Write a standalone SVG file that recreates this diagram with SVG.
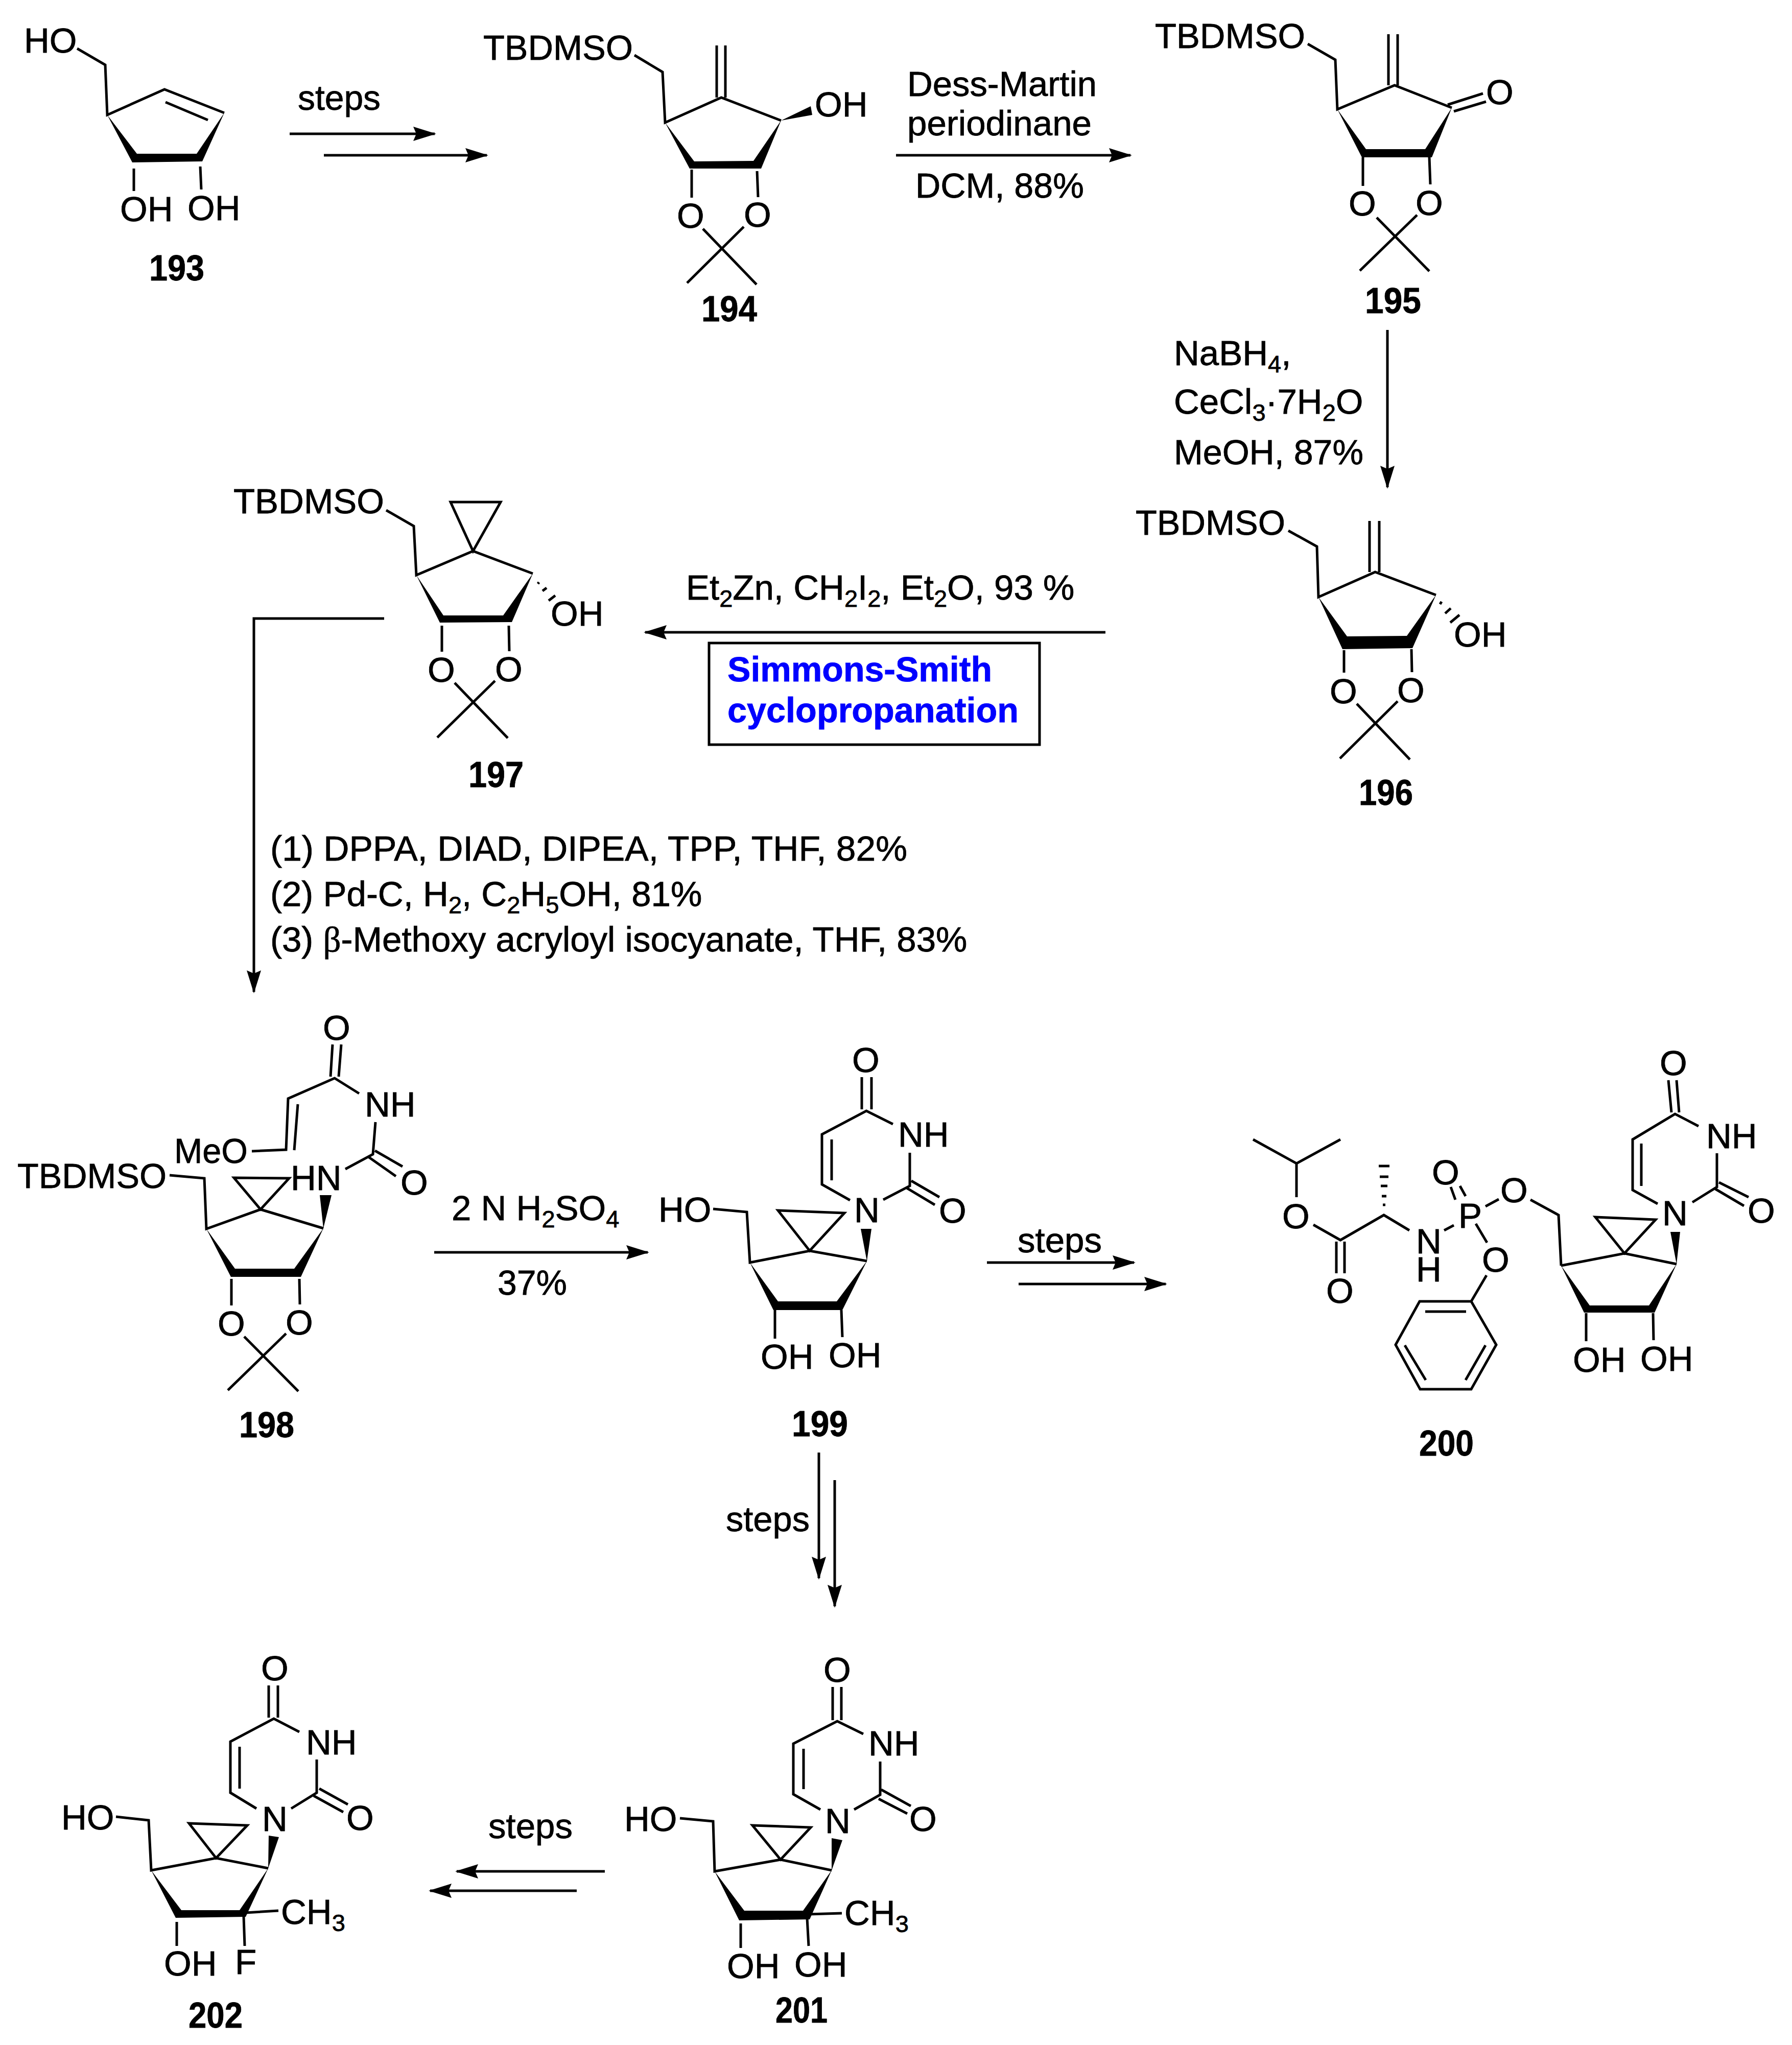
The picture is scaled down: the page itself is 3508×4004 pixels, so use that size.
<svg xmlns="http://www.w3.org/2000/svg" width="3508" height="4004" viewBox="0 0 3508 4004">
<defs>
<style>
text{font-family:"Liberation Sans",Arial,sans-serif;font-size:69px;fill:#000;stroke:#000;stroke-width:0.8;transform:translateX(-3px)}
.l{font-weight:bold;font-size:70px}
.s{font-size:47px}
.bl{font-weight:bold;font-size:68px;fill:#0000ff;stroke:#0000ff}
.b{fill:none;stroke:#000;stroke-width:5;stroke-linejoin:miter}
.f{fill:#000;stroke:none}
.a{fill:none;stroke:#000;stroke-width:5;marker-end:url(#head)}
.c{fill:none;stroke:#000;stroke-width:5}
.gr{font-family:"Liberation Serif",serif}
</style>
<marker id="head" markerUnits="userSpaceOnUse" markerWidth="46" markerHeight="30" refX="42" refY="15" orient="auto"><path d="M45,15 L0,1 L6,15 L0,29 Z" fill="#000"/></marker>
</defs>
<rect width="3508" height="4004" fill="#fff"/>

<g id="connectors">
<path class="a" d="M567,262 H851"/>
<path class="a" d="M634,304 H953"/>
<path class="a" d="M1754,304 H2213"/>
<path class="a" d="M2716,646 V954"/>
<path class="a" d="M2164,1238 H1263"/>
<path class="a" d="M752,1211 H497 V1942"/>
<path class="a" d="M850,2452 H1268"/>
<path class="a" d="M1932,2472 H2220"/>
<path class="a" d="M1994,2514 H2282"/>
<path class="a" d="M1603,2844 V3090"/>
<path class="a" d="M1634,2898 V3145"/>
<path class="a" d="M1184,3664 H894"/>
<path class="a" d="M1129,3702 H842"/>
<rect class="c" x="1388" y="1259" width="647" height="199"/>
</g>

<g id="reagents">
<text x="586" y="215" textLength="162" lengthAdjust="spacingAndGlyphs">steps</text>
<text x="1779" y="188" textLength="371" lengthAdjust="spacingAndGlyphs">Dess-Martin</text>
<text x="1779" y="265" textLength="361" lengthAdjust="spacingAndGlyphs">periodinane</text>
<text x="1795" y="387" textLength="330" lengthAdjust="spacingAndGlyphs">DCM, 88%</text>
<text x="2301" y="715">NaBH<tspan class="s" dy="14">4</tspan><tspan dy="-14">,</tspan></text>
<text x="2301" y="810">CeCl<tspan class="s" dy="14">3</tspan><tspan dy="-14">·7H</tspan><tspan class="s" dy="14">2</tspan><tspan dy="-14">O</tspan></text>
<text x="2301" y="909" textLength="371" lengthAdjust="spacingAndGlyphs">MeOH, 87%</text>
<text x="1346" y="1174">Et<tspan class="s" dy="14">2</tspan><tspan dy="-14">Zn, CH</tspan><tspan class="s" dy="14">2</tspan><tspan dy="-14">I</tspan><tspan class="s" dy="14">2</tspan><tspan dy="-14">, Et</tspan><tspan class="s" dy="14">2</tspan><tspan dy="-14">O, 93 %</tspan></text>
<text class="bl" x="1427" y="1334" textLength="518" lengthAdjust="spacingAndGlyphs">Simmons-Smith</text>
<text class="bl" x="1427" y="1414" textLength="570" lengthAdjust="spacingAndGlyphs">cyclopropanation</text>
<text x="532" y="1685" textLength="1247" lengthAdjust="spacingAndGlyphs">(1) DPPA, DIAD, DIPEA, TPP, THF, 82%</text>
<text x="532" y="1774">(2) Pd-C, H<tspan class="s" dy="14">2</tspan><tspan dy="-14">, C</tspan><tspan class="s" dy="14">2</tspan><tspan dy="-14">H</tspan><tspan class="s" dy="14">5</tspan><tspan dy="-14">OH, 81%</tspan></text>
<text x="532" y="1863">(3) <tspan class="gr">β</tspan>-Methoxy acryloyl isocyanate, THF, 83%</text>
<text x="887" y="2389">2 N H<tspan class="s" dy="14">2</tspan><tspan dy="-14">SO</tspan><tspan class="s" dy="14">4</tspan></text>
<text x="977" y="2535" textLength="136" lengthAdjust="spacingAndGlyphs">37%</text>
<text x="1995" y="2452" textLength="165" lengthAdjust="spacingAndGlyphs">steps</text>
<text x="1424" y="2998" textLength="164" lengthAdjust="spacingAndGlyphs">steps</text>
<text x="959" y="3599" textLength="165" lengthAdjust="spacingAndGlyphs">steps</text>
</g>

<g id="compound-193">
<path class="b" d="M151,95 L206,127 L210,225 L322,175 L439,221 M324,200 L407,235 M262,330 V374 M392,326 L394,371"/>
<path class="f" d="M210,225 L268,301 L385,301 L439,221 L396,316 L259,318 Z"/>
<text x="50" y="103">HO</text>
<text x="238" y="433">OH</text>
<text x="370" y="431">OH</text>
<text class="l" x="295" y="549" textLength="108" lengthAdjust="spacingAndGlyphs">193</text>
</g>

<g id="compound-194">
<path class="b" d="M1242,108 L1297,141 L1302,240 L1412,191 L1529,236 M1403,89 V191 M1420,89 V191 M1354,332 V387 M1482,335 L1484,386 M1376,448 L1481,557 M1456,444 L1345,554"/>
<path class="f" d="M1302,240 L1359,316 L1475,315 L1529,236 L1490,330 L1350,330 Z M1529,236 L1587,208 L1590,225 Z"/>
<text x="949" y="117" textLength="293" lengthAdjust="spacingAndGlyphs">TBDMSO</text>
<text x="1598" y="228">OH</text>
<text x="1328" y="446">O</text>
<text x="1459" y="444">O</text>
<text class="l" x="1376" y="629" textLength="109" lengthAdjust="spacingAndGlyphs">194</text>
</g>

<g id="compound-195">
<path class="b" d="M2560,86 L2614,117 L2618,214 L2730,167 L2842,211 M2718,67 V167 M2736,67 V167 M2834,205 L2903,183 M2846,218 L2909,199 M2668,308 V364 M2798,308 L2800,361 M2695,426 L2798,531 M2774,421 L2662,530"/>
<path class="f" d="M2618,214 L2674,292 L2790,292 L2842,211 L2803,308 L2666,308 Z"/>
<text x="2264" y="94" textLength="294" lengthAdjust="spacingAndGlyphs">TBDMSO</text>
<text x="2912" y="204">O</text>
<text x="2643" y="422">O</text>
<text x="2774" y="421">O</text>
<text class="l" x="2675" y="613" textLength="110" lengthAdjust="spacingAndGlyphs">195</text>
</g>

<g id="compound-196">
<path class="b" d="M2522,1039 L2578,1070 L2581,1169 L2692,1120 L2811,1165 M2681,1020 V1120 M2700,1020 V1120 M2631,1273 V1317 M2763,1271 L2764,1316 M2656,1378 L2760,1487 M2736,1373 L2623,1485 M2819,1183 L2822,1178 M2829,1201 L2840,1191 M2839,1219 L2857,1204"/>
<path class="f" d="M2581,1169 L2637,1246 L2754,1245 L2811,1165 L2765,1269 L2628,1271 Z"/>
<text x="2226" y="1047" textLength="293" lengthAdjust="spacingAndGlyphs">TBDMSO</text>
<text x="2849" y="1266">OH</text>
<text x="2606" y="1377">O</text>
<text x="2738" y="1375">O</text>
<text class="l" x="2663" y="1576" textLength="106" lengthAdjust="spacingAndGlyphs">196</text>
</g>

<g id="compound-197">
<path class="b" d="M756,999 L810,1030 L815,1126 L926,1079 L1043,1123 M882,983 H980 L926,1079 Z M865,1225 V1276 M996,1225 L997,1275 M890,1337 L994,1445 M969,1333 L856,1444 M1053,1143 L1055,1140 M1062,1157 L1070,1151 M1074,1176 L1087,1166"/>
<path class="f" d="M815,1126 L868,1205 L985,1205 L1043,1123 L1002,1218 L861,1219 Z"/>
<text x="460" y="1005" textLength="295" lengthAdjust="spacingAndGlyphs">TBDMSO</text>
<text x="1081" y="1225">OH</text>
<text x="840" y="1335">O</text>
<text x="972" y="1334">O</text>
<text class="l" x="920" y="1541" textLength="108" lengthAdjust="spacingAndGlyphs">197</text>
</g>

<g id="compound-198">
<path class="b" d="M651,2045 L647,2108 M668,2045 L663,2108 M703,2141 L655,2111 L564,2151 L560,2251 L493,2254 M583,2162 L576,2252 M735,2197 L730,2260 L676,2289 M734,2253 L788,2284 M721,2265 L775,2303 M332,2301 L400,2307 L404,2406 L510,2368 L633,2405 M458,2306 L566,2307 L510,2368 Z M453,2504 V2556 M586,2504 L587,2554 M478,2617 L584,2724 M560,2611 L446,2722"/>
<path class="f" d="M404,2406 L460,2484 L576,2484 L633,2405 L589,2500 L452,2500 Z M633,2405 L626,2340 L649,2340 Z"/>
<text x="37" y="2326" textLength="292" lengthAdjust="spacingAndGlyphs">TBDMSO</text>
<text x="344" y="2277" textLength="144" lengthAdjust="spacingAndGlyphs">MeO</text>
<text x="635" y="2036">O</text>
<text x="717" y="2186">NH</text>
<text x="572" y="2330">HN</text>
<text x="787" y="2339">O</text>
<text x="429" y="2615">O</text>
<text x="562" y="2613">O</text>
<text class="l" x="471" y="2814" textLength="108" lengthAdjust="spacingAndGlyphs">198</text>
</g>

<g id="compound-199">
<path class="b" d="M1687,2109 V2172 M1706,2109 V2172 M1748,2201 L1696,2175 L1609,2221 V2319 L1664,2350 M1628,2231 V2311 M1781,2257 V2322 L1729,2349 M1784,2312 L1839,2344 M1775,2326 L1830,2359 M1396,2367 L1462,2373 L1468,2472 L1585,2449 L1697,2469 M1523,2370 L1653,2375 L1585,2449 Z M1517,2565 V2621 M1647,2565 L1649,2618"/>
<path class="f" d="M1468,2472 L1523,2548 L1638,2548 L1697,2469 L1649,2565 L1514,2565 Z M1697,2469 L1685,2406 L1706,2406 Z"/>
<text x="1671" y="2099">O</text>
<text x="1761" y="2245">NH</text>
<text x="1675" y="2393">N</text>
<text x="1841" y="2394">O</text>
<text x="1292" y="2392">HO</text>
<text x="1492" y="2680">OH</text>
<text x="1625" y="2677">OH</text>
<text class="l" x="1553" y="2812" textLength="110" lengthAdjust="spacingAndGlyphs">199</text>
</g>

<g id="compound-200">
<path class="b" d="M2453,2231 L2538,2278 L2624,2231 M2538,2278 V2344 M2571,2398 L2624,2428 L2709,2379 L2759,2409 M2616,2431 V2493 M2632,2431 V2493 M2827,2409 L2846,2399 M2840,2324 L2849,2349 M2858,2322 L2869,2342 M2908,2362 L2934,2348 M2996,2349 L3051,2379 L3056,2478 M2889,2396 L2911,2433 M2910,2497 L2880,2548 H2779 L2732,2633 L2780,2720 H2880 L2929,2633 L2880,2548 M2790,2568 H2870 M2750,2634 L2791,2702 M2908,2634 L2869,2702 M2699,2283 H2720 M2701,2304 H2718 M2703,2322 H2716 M2705,2342 H2714 M2707,2359 H2712 M3056,2478 L3180,2454 L3282,2475 M3123,2383 L3241,2388 L3180,2454 Z M3105,2571 V2626 M3236,2571 L3237,2624 M3266,2115 L3272,2178 M3282,2115 L3287,2178 M3325,2205 L3279,2181 L3196,2231 V2330 L3245,2357 M3213,2239 V2322 M3361,2258 V2324 L3313,2354 M3365,2315 L3423,2344 M3358,2328 L3414,2361"/>
<path class="f" d="M3056,2478 L3112,2556 L3228,2556 L3282,2475 L3239,2570 L3101,2570 Z M3282,2475 L3270,2412 L3289,2412 Z"/>
<text x="2513" y="2405">O</text>
<text x="2599" y="2551">O</text>
<text x="2775" y="2454">N</text>
<text x="2775" y="2509">H</text>
<text x="2858" y="2404">P</text>
<text x="2806" y="2319">O</text>
<text x="2940" y="2354">O</text>
<text x="2904" y="2490">O</text>
<text x="3082" y="2686">OH</text>
<text x="3214" y="2684">OH</text>
<text x="3257" y="2399">N</text>
<text x="3343" y="2248">NH</text>
<text x="3252" y="2105">O</text>
<text x="3424" y="2394">O</text>
<text class="l" x="2781" y="2850" textLength="107" lengthAdjust="spacingAndGlyphs">200</text>
</g>

<g id="compound-201">
<path class="b" d="M1630,3303 V3368 M1647,3303 V3368 M1690,3395 L1639,3370 L1553,3414 V3513 L1606,3543 M1573,3424 V3503 M1723,3449 V3514 L1672,3543 M1725,3504 L1783,3536 M1720,3522 L1776,3551 M1331,3560 L1396,3566 L1399,3664 L1528,3641 L1628,3662 M1473,3574 L1587,3578 L1528,3641 Z M1450,3766 V3814 M1580,3756 L1583,3810 M1582,3748 L1648,3746"/>
<path class="f" d="M1399,3664 L1457,3741 L1572,3741 L1628,3662 L1585,3758 L1447,3760 Z M1628,3662 L1628,3599 L1649,3603 Z"/>
<text x="1615" y="3293">O</text>
<text x="1703" y="3437">NH</text>
<text x="1618" y="3589">N</text>
<text x="1783" y="3585">O</text>
<text x="1225" y="3585">HO</text>
<text x="1426" y="3873">OH</text>
<text x="1558" y="3870">OH</text>
<text x="1656" y="3769">CH<tspan class="s" dy="14">3</tspan></text>
<text class="l" x="1521" y="3960" textLength="102" lengthAdjust="spacingAndGlyphs">201</text>
</g>

<g id="compound-202">
<path class="b" d="M526,3300 V3363 M544,3300 V3363 M586,3391 L536,3365 L451,3410 V3510 L502,3541 M469,3420 V3502 M620,3445 V3510 L570,3541 M625,3502 L681,3533 M614,3516 L672,3548 M227,3557 L291,3564 L296,3662 L423,3638 L525,3658 M370,3570 L484,3574 L423,3638 Z M346,3763 V3810 M477,3752 L479,3810 M481,3745 L545,3741"/>
<path class="f" d="M296,3662 L355,3740 L469,3740 L525,3658 L481,3753 L344,3755 Z M525,3658 L526,3594 L546,3597 Z"/>
<text x="514" y="3290">O</text>
<text x="602" y="3435">NH</text>
<text x="516" y="3585">N</text>
<text x="681" y="3583">O</text>
<text x="123" y="3582">HO</text>
<text x="324" y="3868">OH</text>
<text x="463" y="3865">F</text>
<text x="553" y="3767">CH<tspan class="s" dy="14">3</tspan></text>
<text class="l" x="372" y="3970" textLength="106" lengthAdjust="spacingAndGlyphs">202</text>
</g>
</svg>
